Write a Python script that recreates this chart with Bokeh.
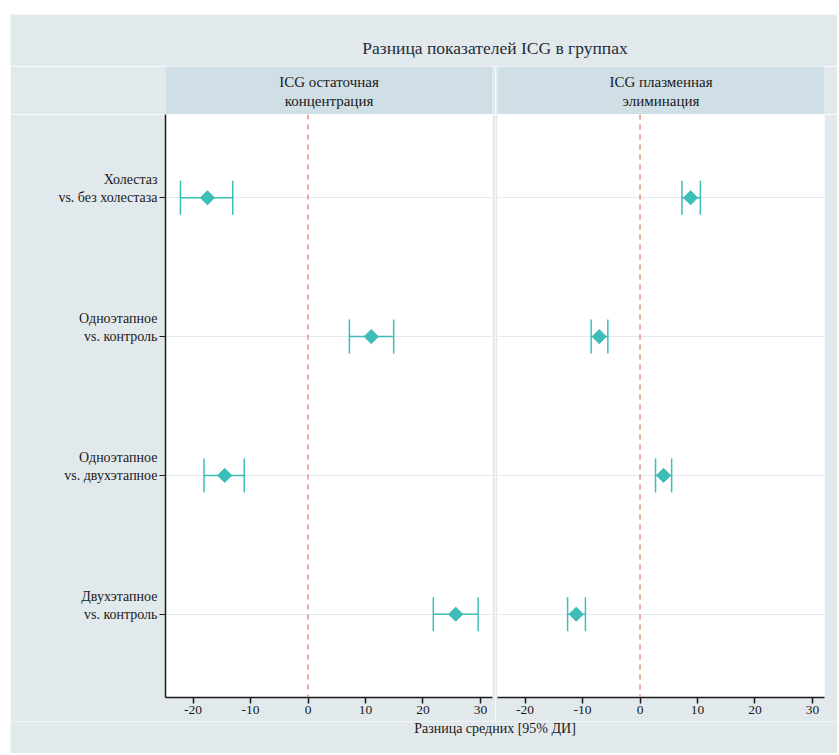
from bokeh.plotting import figure
from bokeh.models import ColumnDataSource, Range1d, FixedTicker, Span, Whisker, TeeHead, Spacer
from bokeh.layouts import column, row
from bokeh.embed import file_html
from bokeh.resources import INLINE
from bokeh.core.properties import value

# ---------------- data ----------------
chart_title = "Разница показателей ICG в группах"
x_title = "Разница средних [95% ДИ]"
panel_titles = ["ICG остаточная\nконцентрация", "ICG плазменная\nэлиминация"]
comparisons = [
    "Холестаз\nvs. без холестаза",
    "Одноэтапное\nvs. контроль",
    "Одноэтапное\nvs. двухэтапное",
    "Двухэтапное\nvs. контроль",
]
row_pos = [1, 2, 3, 4]
x_ticks = [-20, -10, 0, 10, 20, 30]

conc_mean = [-17.5, 11.0, -14.5, 25.7]
conc_lo = [-22.2, 7.2, -18.1, 21.8]
conc_hi = [-13.1, 14.9, -11.1, 29.6]

elim_mean = [8.8, -7.1, 4.1, -11.1]
elim_lo = [7.3, -8.5, 2.7, -12.6]
elim_hi = [10.5, -5.6, 5.5, -9.5]

# ---------------- style ----------------
BG = "#e2e9ec"
BAND = "#cfdfe5"
TEAL = "#3dbdb8"
REF = "#e07b6a"
INK = "#1a1a1a"
TITLE_INK = "#1f2d3a"
GRID = "#e4ebee"
FONT = "'Liberation Serif', serif"

FRAME_W = 327
FRAME_H = 583
LEFT_B = 155
MID_L = 3
MID_R = 2
RIGHT_B = 13
TOTAL_FRAME = FRAME_W * 2 + MID_L + MID_R
TOTAL_W = LEFT_B + TOTAL_FRAME + RIGHT_B


def deco(frame_w, frame_h, left, right, fill, xr=(0, 1)):
    p = figure(frame_width=frame_w, frame_height=frame_h,
               x_range=Range1d(*xr), y_range=Range1d(0, 1),
               x_axis_location=None, y_axis_location=None,
               toolbar_location=None, output_backend="svg",
               min_border_left=left, min_border_right=right,
               min_border_top=0, min_border_bottom=0)
    p.xgrid.visible = False
    p.ygrid.visible = False
    p.outline_line_color = None
    p.background_fill_color = fill
    p.border_fill_color = BG
    return p


# title: frame spans the whole width, range in layout units so the text
# centres over the two panels
span_range = (-LEFT_B, TOTAL_FRAME + RIGHT_B)
title_fig = deco(TOTAL_W, 52, 0, 0, BG, span_range)
title_fig.text(x=[TOTAL_FRAME / 2], y=[0.35], text=[chart_title], text_align="center",
               text_baseline="middle", text_font=value(FONT),
               text_font_size="17.5px", text_color=TITLE_INK)

# panel headers
hdr_l = deco(FRAME_W, 48, LEFT_B, MID_L, BAND)
hdr_r = deco(FRAME_W, 48, MID_R, RIGHT_B, BAND)
for h, t in zip([hdr_l, hdr_r], panel_titles):
    h.text(x=[0.5], y=[0.48], text=[t], text_align="center",
           text_baseline="middle", text_font=value(FONT),
           text_font_size="15px", text_color=INK, text_line_height=1.2)


def panel(mean, lo, hi, left, right, show_y):
    src = ColumnDataSource(dict(y=row_pos, mean=mean, lo=lo, hi=hi))
    p = figure(frame_width=FRAME_W, frame_height=FRAME_H,
               x_range=Range1d(-24.8, 32.1), y_range=Range1d(4.6, 0.4),
               y_axis_location="left" if show_y else None,
               toolbar_location=None, output_backend="svg",
               min_border_left=left, min_border_right=right,
               min_border_top=0, min_border_bottom=24)
    p.outline_line_color = None
    p.background_fill_color = "white"
    p.border_fill_color = BG
    p.xgrid.visible = False
    p.ygrid.ticker = FixedTicker(ticks=row_pos)
    p.ygrid.grid_line_color = GRID
    p.ygrid.grid_line_width = 1

    xa = p.xaxis[0]
    xa.ticker = FixedTicker(ticks=x_ticks)
    xa.major_label_overrides = {t: str(t) for t in x_ticks}
    xa.major_tick_out = 6
    xa.major_tick_in = 0
    xa.minor_tick_out = 0
    xa.minor_tick_in = 0
    xa.axis_line_color = INK
    xa.axis_line_width = 1.5
    xa.major_tick_line_color = INK
    xa.major_tick_line_width = 1.5
    xa.major_label_text_font = FONT
    xa.major_label_text_font_size = "13.5px"
    xa.major_label_text_color = INK
    xa.major_label_standoff = 2

    if show_y:
        ya = p.yaxis[0]
        ya.ticker = FixedTicker(ticks=row_pos)
        ya.major_label_overrides = {r: c + "\n " for r, c in zip(row_pos, comparisons)}
        ya.major_tick_out = 6
        ya.major_tick_in = 0
        ya.minor_tick_out = 0
        ya.minor_tick_in = 0
        ya.axis_line_color = INK
        ya.axis_line_width = 1.5
        ya.major_tick_line_color = INK
        ya.major_tick_line_width = 1.2
        ya.major_label_text_font = FONT
        ya.major_label_text_font_size = "14px"
        ya.major_label_text_color = INK
        ya.major_label_standoff = 2

    p.add_layout(Span(location=0, dimension="height", line_color=REF,
                      line_dash="5 5", line_width=1.5, line_alpha=0.85))
    w = Whisker(source=src, base="y", lower="lo", upper="hi", dimension="width",
                line_color=TEAL, line_width=1.5,
                lower_head=TeeHead(size=34, line_color=TEAL, line_width=1.5),
                upper_head=TeeHead(size=34, line_color=TEAL, line_width=1.5))
    p.add_layout(w)
    p.scatter("mean", "y", source=src, marker="square", angle=0.785398,
              size=10, fill_color=TEAL, line_color=TEAL)
    return p


pan_l = panel(conc_mean, conc_lo, conc_hi, LEFT_B, MID_L, True)
pan_r = panel(elim_mean, elim_lo, elim_hi, MID_R, RIGHT_B, False)

footer = deco(TOTAL_W, 32, 0, 0, BG, span_range)
footer.text(x=[TOTAL_FRAME / 2], y=[0.78], text=[x_title], text_align="center",
            text_baseline="middle", text_font=value(FONT),
            text_font_size="14px", text_color=INK)

inner = column(title_fig, row(hdr_l, hdr_r), row(pan_l, pan_r), footer)
layout = column(Spacer(height=14), row(Spacer(width=10), inner))

open("out.html", "w").write(file_html(layout, INLINE))
